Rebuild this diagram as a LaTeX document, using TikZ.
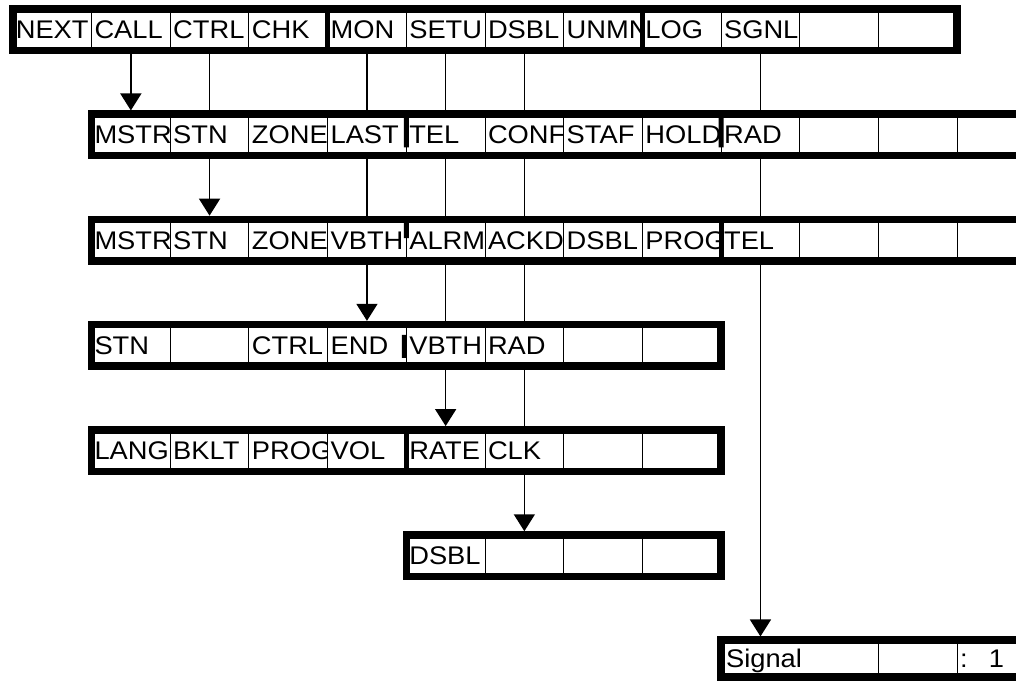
\documentclass[tikz,border=0pt]{standalone}
\usepackage{fontspec}
\setmainfont{Liberation Sans}[FakeStretch=1.07]
\usetikzlibrary{calc,arrows.meta}

\tikzset{
  cell/.style={draw, line width=1pt, fill=white, minimum width=78.7pt, minimum height=41.5pt,
    text width=72.7pt, align=left, inner xsep=3pt, inner ysep=0pt, outer sep=0pt,
    text height=18pt, text depth=0pt, font=\fontsize{25.5pt}{30pt}\selectfont},
  frame/.style={line width=7.5pt},
  pagebar/.style={line width=5pt},
  link/.style={line width=1.6pt, shorten <=3.75pt, shorten >=3.75pt},
  linkarrow/.style={link, -{Triangle[width=21pt,length=17pt]}}
}

\begin{document}
\begin{tikzpicture}[x=1pt,y=1pt]
  \useasboundingbox (0,0) rectangle (1016,-680);
  \clip (0,0) rectangle (1016,-680);
  \fill[white] (0,0) rectangle (1016,-680);

  % softkey rows
  \foreach \lab [count=\k from 0] in {NEXT,CALL,CTRL,CHK,MON,SETU,DSBL,UNMN,LOG,SGNL,{},{}}
    \node[cell] (r1c\k) at ({52.15+78.7*\k},-29.75) {\lab};
  \foreach \lab [count=\k from 1] in {MSTR,STN,ZONE,LAST,TEL,CONF,STAF,HOLD,RAD,{},{},{}}
    \node[cell] (r2c\k) at ({52.15+78.7*\k},-134.95) {\lab};
  \foreach \lab [count=\k from 1] in {MSTR,STN,ZONE,VBTH,ALRM,ACKD,DSBL,PROG,TEL,{},{},{}}
    \node[cell] (r3c\k) at ({52.15+78.7*\k},-240.15) {\lab};
  \foreach \lab [count=\k from 1] in {STN,{},CTRL,END,VBTH,RAD,{},{}}
    \node[cell] (r4c\k) at ({52.15+78.7*\k},-345.35) {\lab};
  \foreach \lab [count=\k from 1] in {LANG,BKLT,PROG,VOL,RATE,CLK,{},{}}
    \node[cell] (r5c\k) at ({52.15+78.7*\k},-450.55) {\lab};
  \foreach \lab [count=\k from 5] in {DSBL,{},{},{}}
    \node[cell] (r6c\k) at ({52.15+78.7*\k},-555.75) {\lab};
  \node[cell, minimum width=157.4pt, text width=147.4pt, inner xsep=5pt, minimum height=37pt] (r7sig) at (799.8,-658.7) {Signal};
  \node[cell, minimum height=37pt] (r7c11) at ({52.15+78.7*11},-658.7) {};
  \node[cell, minimum height=37pt] (r7c12) at ({52.15+78.7*12},-658.7) {:\hspace{21pt}1};

  % thick frames
  \draw[frame] (r1c0.north west) rectangle (r1c11.south east);
  \draw[frame] (r2c1.north west) rectangle (r2c12.south east);
  \draw[frame] (r3c1.north west) rectangle (r3c12.south east);
  \draw[frame] (r4c1.north west) rectangle (r4c8.south east);
  \draw[frame] (r5c1.north west) rectangle (r5c8.south east);
  \draw[frame] (r6c5.north west) rectangle (r6c8.south east);
  \draw[frame] (r7sig.north west) rectangle (r7c12.south east);

  % page separators
  \draw[pagebar] (r1c4.north west) -- (r1c4.south west);
  \draw[pagebar] (r1c8.north west) -- (r1c8.south west);
  \draw[pagebar] (r2c5.north west) -- ($(r2c5.north west)!0.8!(r2c5.south west)$);
  \draw[pagebar] (r2c9.north west) -- ($(r2c9.north west)!0.8!(r2c9.south west)$);
  \draw[pagebar] (r3c5.north west) -- ($(r3c5.north west)!0.45!(r3c5.south west)$);
  \draw[pagebar] (r3c9.north west) -- (r3c9.south west);
  \draw[pagebar] ($(r4c5.north west)!0.25!(r4c5.south west)+(-2,0)$) -- ($(r4c5.north west)!0.8!(r4c5.south west)+(-2,0)$);
  \draw[pagebar] (r5c5.north west) -- (r5c5.south west);

  % connectors
  \draw[linkarrow] (r1c1.south) -- (r2c1.north);
  \foreach \k in {2,4,5,6,9}
    \draw[link] (r1c\k.south) -- (r2c\k.north);
  \draw[linkarrow] (r2c2.south) -- (r3c2.north);
  \foreach \k in {4,5,6,9}
    \draw[link] (r2c\k.south) -- (r3c\k.north);
  \draw[linkarrow] (r3c4.south) -- (r4c4.north);
  \foreach \k in {5,6}
    \draw[link] (r3c\k.south) -- (r4c\k.north);
  \draw[linkarrow] (r4c5.south) -- (r5c5.north);
  \draw[link] (r4c6.south) -- (r5c6.north);
  \draw[linkarrow] (r5c6.south) -- (r6c6.north);
  \draw[linkarrow] (r3c9.south) -- (r3c9.south |- r7sig.north);
\end{tikzpicture}
\end{document}
